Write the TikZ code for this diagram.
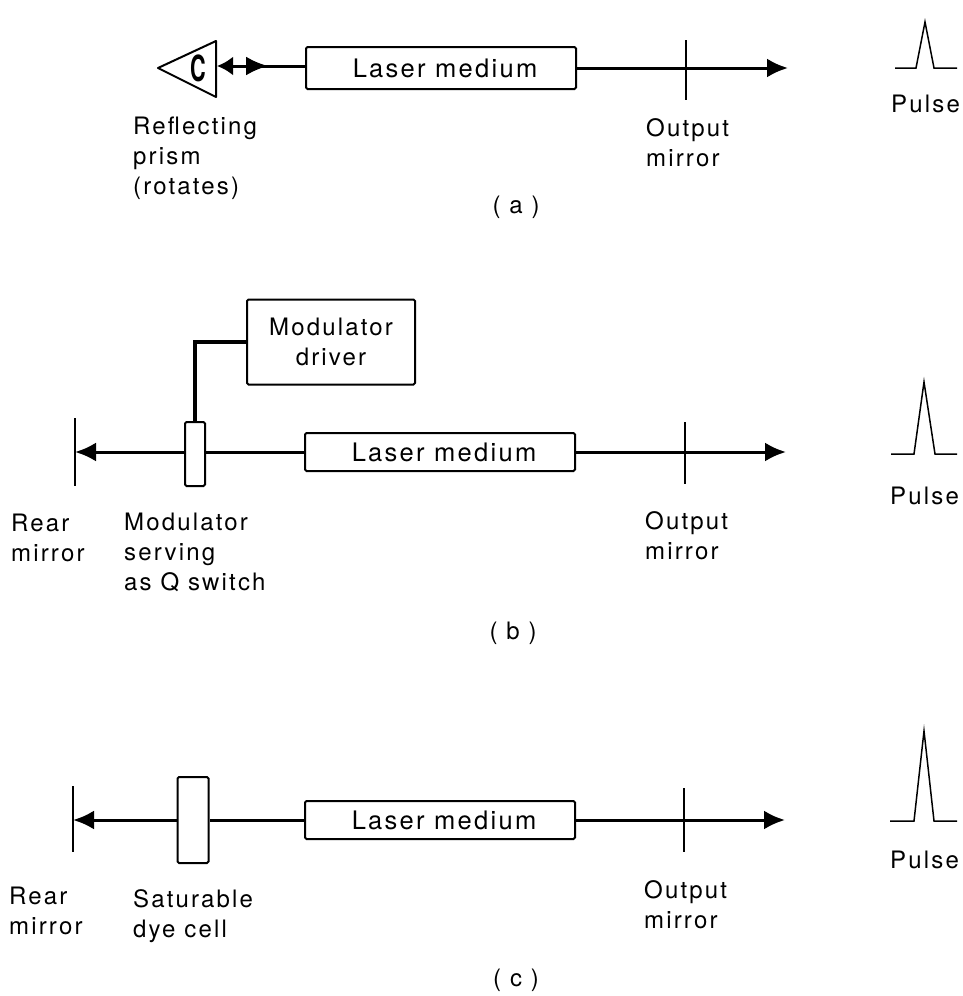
\documentclass[tikz,border=0pt]{standalone}
\usepackage{fontspec}
\setmainfont[LetterSpace=9]{TeX Gyre Heros}
\usepackage{tikz}
\usetikzlibrary{calc, arrows.meta, positioning}
\tikzset{
  beam/.style={line width=3pt},
  beamend/.style={line width=3pt, -{Latex[length=21pt,width=19pt]}},
  thin line/.style={line width=1.5pt},
  labeltext/.style={font=\fontsize{24}{30}\selectfont, align=left, inner sep=0pt},
  boxnode/.style={draw, line width=2pt, rounded corners=1.5pt, font=\fontsize{24}{30}\selectfont, inner sep=0pt, align=center},
  mediumbox/.style={boxnode, font=\fontsize{25.5}{30}\selectfont, minimum width=270pt},
}
\begin{document}
\begin{tikzpicture}[x=1pt,y=-1pt]
  \useasboundingbox (0,0) rectangle (963,996);
  % (a)
  \node[mediumbox, minimum height=42pt] (mediuma) at (441,68) {\hspace*{8pt}Laser medium};
  \coordinate (enda) at (788,68);
  \draw[beamend] (mediuma.east) -- (enda);
  \draw[thin line] (686,40) -- (686,100);
  \node[labeltext, anchor=north west] (outa) at (646,118) {Output\\mirror};
  \draw[line width=2pt, line join=round] (158,68) -- (216,41) -- (216,97) -- cycle;
  \node[font=\bfseries\fontsize{36}{36}\selectfont, inner sep=0pt] (prism) at (198,68) {\scalebox{.6}[1]{C}};
  \coordinate (prisma) at (217,66);
  \coordinate (beama) at (268,66);
  \draw[beam] (beama) ++(-8,0) -- (beama -| mediuma.west);
  \draw[line width=3pt, {Latex[length=16pt,width=19pt]}-{Latex[length=22pt,width=19pt]}] (prisma) -- (beama);
  \node[labeltext, anchor=north west] (prismtext) at (133,117) {Reflecting\\prism\\(rotates)};
  \node[labeltext] (capa) at (516,207) {( a )};
  \draw[thin line] (895,68) -- (916,68) -- (925,22) -- (934,68) -- (957,68);
  \node[labeltext, anchor=north west] (pulsea) at (891,95) {Pulse};
  % (b)
  \node[mediumbox, minimum height=38pt] (mediumb) at (440,452) {\hspace*{8pt}Laser medium};
  \coordinate (endb) at (786,452);
  \draw[beamend] (mediumb.east) -- (endb);
  \draw[thin line] (685,422) -- (685,484);
  \node[labeltext, anchor=north west] (outb) at (645,511) {Output\\mirror};
  \draw[line width=2pt] (75,418) -- (75,486);
  \node[draw, line width=2pt, rounded corners=1.5pt, minimum width=20pt, minimum height=64pt, inner sep=0pt] (switch) at (195,454) {};
  \draw[beam] (mediumb.west) -- (mediumb.west -| switch.east);
  \coordinate (rearb) at (75,452);
  \draw[beamend] (rearb -| switch.west) -- (rearb);
  \node[boxnode, minimum width=168pt, minimum height=85pt] (driver) at (331,342) {Modulator\\driver};
  \draw[line width=3.5pt] (switch.north) |- (driver.west);
  \node[labeltext, anchor=north west] (rearbtext) at (11,514) {Rear\\mirror};
  \node[labeltext, anchor=north west] (switchtext) at (124,513) {Modulator\\serving\\as Q switch};
  \node[labeltext] (capb) at (513,633) {( b )};
  \draw[thin line] (891,454) -- (914,454) -- (924,382) -- (935,454) -- (957,454);
  \node[labeltext, anchor=north west] (pulseb) at (890,487) {Pulse};
  % (c)
  \node[mediumbox, minimum height=38pt] (mediumc) at (440,820) {\hspace*{8pt}Laser medium};
  \coordinate (endc) at (785,820);
  \draw[beamend] (mediumc.east) -- (endc);
  \draw[thin line] (684,788) -- (684,852);
  \node[labeltext, anchor=north west] (outc) at (644,880) {Output\\mirror};
  \draw[line width=2pt] (73,786) -- (73,852);
  \node[draw, line width=2pt, rounded corners=1.5pt, minimum width=31pt, minimum height=86pt, inner sep=0pt] (cell) at (193,820) {};
  \draw[beam] (mediumc.west) -- (cell.east);
  \coordinate (rearc) at (73,820);
  \draw[beamend] (cell.west) -- (rearc);
  \node[labeltext, anchor=north west] (rearctext) at (9,887) {Rear\\mirror};
  \node[labeltext, anchor=north west] (celltext) at (133,889) {Saturable\\dye cell};
  \node[labeltext] (capc) at (516,980) {( c )};
  \draw[thin line] (890,821) -- (914,821) -- (924,731) -- (934,821) -- (957,821);
  \node[labeltext, anchor=north west] (pulsec) at (890,851) {Pulse};
\end{tikzpicture}
\end{document}
